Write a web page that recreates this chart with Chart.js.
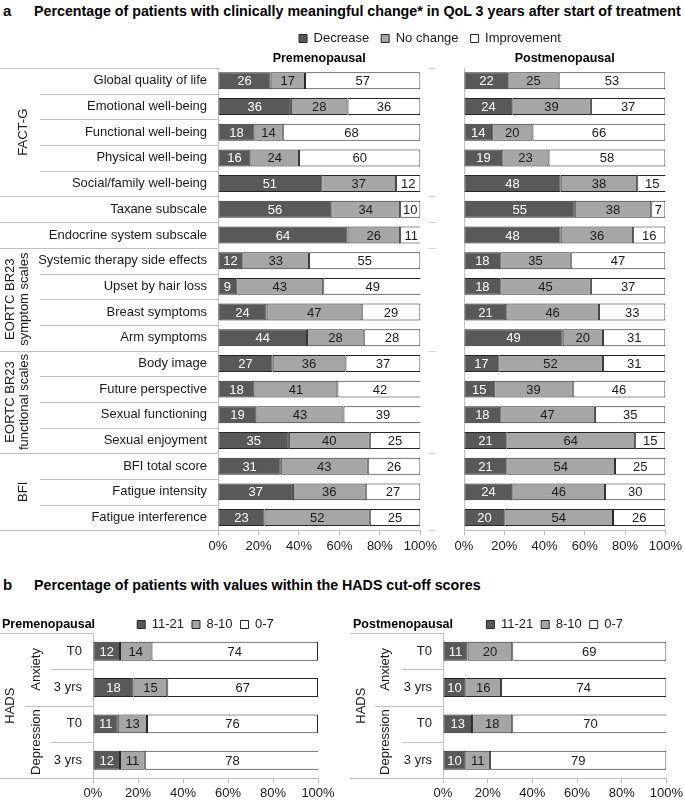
<!DOCTYPE html>
<html>
<head>
<meta charset="utf-8">
<title>QoL change and HADS cut-off scores</title>
<script src="https://cdn.jsdelivr.net/npm/chart.js@4"></script>
<style>
  body { margin: 0; width: 685px; height: 802px; overflow: hidden; background: #fff; position: relative;
         font-family: "Liberation Sans", Arial, sans-serif; }
  .head { position: absolute; font-weight: bold; color: #000; white-space: nowrap; line-height: 16px; }
  canvas { position: absolute; }
</style>
</head>
<body>
<div class="head" style="left:3px;top:3px;font-size:15px">a</div>
<div class="head" style="left:34px;top:3px;font-size:14.25px">Percentage of patients with clinically meaningful change* in QoL 3 years after start of treatment</div>
<div class="head" style="left:3px;top:577px;font-size:15px">b</div>
<div class="head" style="left:34px;top:577px;font-size:14.25px">Percentage of patients with values within the HADS cut-off scores</div>

<canvas id="preA" width="440" height="537" style="left:0;top:20px"></canvas>
<canvas id="postA" width="510" height="537" style="left:175px;top:20px"></canvas>
<canvas id="preB" width="340" height="193" style="left:0;top:610px"></canvas>
<canvas id="postB" width="345" height="193" style="left:340px;top:610px"></canvas>

<script>
// panel a: change in QoL scales 3 years after start of treatment (%)
const qolScales = ['Global quality of life', 'Emotional well-being', 'Functional well-being',
  'Physical well-being', 'Social/family well-being', 'Taxane subscale', 'Endocrine system subscale',
  'Systemic therapy side effects', 'Upset by hair loss', 'Breast symptoms', 'Arm symptoms',
  'Body image', 'Future perspective', 'Sexual functioning', 'Sexual enjoyment',
  'BFI total score', 'Fatigue intensity', 'Fatigue interference'];
const qolGroups = [
  { text: ['FACT-G'], rows: 5 },
  { text: [], rows: 1 },
  { text: [], rows: 1 },
  { text: ['EORTC BR23', 'symptom scales'], rows: 4 },
  { text: ['EORTC BR23', 'functional scales'], rows: 4 },
  { text: ['BFI'], rows: 3 }
];
const changeNames = ['Decrease', 'No change', 'Improvement'];

const preDecrease    = [26, 36, 18, 16, 51, 56, 64, 12,  9, 24, 44, 27, 18, 19, 35, 31, 37, 23];
const preNoChange    = [17, 28, 14, 24, 37, 34, 26, 33, 43, 47, 28, 36, 41, 43, 40, 43, 36, 52];
const preImprovement = [57, 36, 68, 60, 12, 10, 11, 55, 49, 29, 28, 37, 42, 39, 25, 26, 27, 25];

const postDecrease    = [22, 24, 14, 19, 48, 55, 48, 18, 18, 21, 49, 17, 15, 18, 21, 21, 24, 20];
const postNoChange    = [25, 39, 20, 23, 38, 38, 36, 35, 45, 46, 20, 52, 39, 47, 64, 54, 46, 54];
const postImprovement = [53, 37, 66, 58, 15,  7, 16, 47, 37, 33, 31, 31, 46, 35, 15, 25, 30, 26];

// panel b: HADS cut-off scores (%)
const hadsTimes = ['T0', '3 yrs', 'T0', '3 yrs'];
const hadsGroups = [{ text: ['HADS'], rows: 4 }];
const hadsSubGroups = [{ text: ['Anxiety'], rows: 2 }, { text: ['Depression'], rows: 2 }];
const hadsNames = ['11-21', '8-10', '0-7'];

const preHigh = [12, 18, 11, 12];
const preMid  = [14, 15, 13, 11];
const preLow  = [74, 67, 76, 78];

const postHigh = [11, 10, 13, 10];
const postMid  = [20, 16, 18, 11];
const postLow  = [69, 74, 70, 79];

const xTicks = [0, 20, 40, 60, 80, 100];

const FONT = '"Liberation Sans", Arial, sans-serif';
const fills = ['#595959', '#a6a6a6', '#ffffff'];
const valueColors = ['#ffffff', '#1a1a1a', '#1a1a1a'];
const lineGray = '#bfbfbf';

Chart.defaults.font.family = FONT;
Chart.defaults.font.size = 13;
Chart.defaults.color = '#1a1a1a';
Chart.defaults.animation = false;

// numbers in the middle of every segment
const barValues = {
  id: 'barValues',
  afterDatasetsDraw(chart) {
    const ctx = chart.ctx;
    ctx.save();
    ctx.font = '13px ' + FONT;
    ctx.textAlign = 'center';
    ctx.textBaseline = 'middle';
    chart.data.datasets.forEach((ds, i) => {
      chart.getDatasetMeta(i).data.forEach((bar, j) => {
        const p = bar.getProps(['x', 'y', 'base'], true);
        ctx.fillStyle = valueColors[i];
        ctx.fillText(ds.data[j], (p.x + p.base) / 2, p.y + 1);
      });
    });
    ctx.restore();
  }
};

// grouped category labels and separator lines left of the axis
const sideLabels = {
  id: 'sideLabels',
  afterDraw(chart, args, opts) {
    if (!opts.levels) return;
    const { ctx, chartArea } = chart;
    const y = chart.scales.y;
    const n = chart.data.labels.length;
    const edge = k => Math.round(y.getPixelForValue(k - 0.5)) + 0.5;
    const bounds = opts.levels.map(lv => {
      const s = new Set([0]);
      let k = 0;
      lv.groups.forEach(g => { k += g.rows; s.add(k); });
      return s;
    });
    ctx.save();
    ctx.strokeStyle = lineGray;
    ctx.lineWidth = 1;
    for (let k = 0; k <= n; k++) {
      const li = bounds.findIndex(s => s.has(k));
      const x0 = li >= 0 ? opts.levels[li].lineX : opts.rowLineX;
      const yy = edge(k);
      ctx.beginPath();
      ctx.moveTo(x0, yy);
      ctx.lineTo(chartArea.left, yy);
      ctx.stroke();
      if (opts.outerTicks && li === 0) {
        ctx.strokeStyle = '#d9d9d9';
        ctx.beginPath();
        ctx.moveTo(chartArea.right + 8, yy);
        ctx.lineTo(chartArea.right + 16, yy);
        ctx.stroke();
        ctx.strokeStyle = lineGray;
      }
    }
    ctx.fillStyle = '#1a1a1a';
    ctx.font = '13px ' + FONT;
    ctx.textAlign = 'center';
    ctx.textBaseline = 'middle';
    opts.levels.forEach(lv => {
      let k = 0;
      lv.groups.forEach(g => {
        if (g.text.length) {
          const cy = (y.getPixelForValue(k - 0.5) + y.getPixelForValue(k + g.rows - 0.5)) / 2;
          const cx = g.text.length > 1 ? lv.multiX : lv.x;
          ctx.save();
          ctx.translate(cx, cy);
          ctx.rotate(-Math.PI / 2);
          g.text.forEach((t, i) => ctx.fillText(t, 0, (i - (g.text.length - 1) / 2) * 14));
          ctx.restore();
        }
        k += g.rows;
      });
    });
    ctx.restore();
  }
};

// bold heading on the legend row (panel b)
const cornerTitle = {
  id: 'cornerTitle',
  afterDraw(chart, args, opts) {
    if (!opts.text) return;
    const lg = chart.legend;
    const ctx = chart.ctx;
    ctx.save();
    ctx.font = 'bold 12.5px ' + FONT;
    ctx.fillStyle = '#000';
    ctx.textAlign = 'left';
    ctx.textBaseline = 'middle';
    ctx.fillText(opts.text, opts.x, lg.top + lg.options.labels.padding + 6.5);
    ctx.restore();
  }
};

function stackedBars(id, o) {
  const datasets = o.series.map((s, i) => ({
    label: o.names[i],
    data: s,
    backgroundColor: fills[i],
    borderColor: '#262626',
    borderWidth: 1,
    borderSkipped: false,
    barPercentage: o.barPct,
    categoryPercentage: 1
  }));
  return new Chart(document.getElementById(id), {
    type: 'bar',
    data: { labels: o.labels, datasets: datasets },
    options: {
      indexAxis: 'y',
      responsive: false,
      layout: { padding: { top: o.padTop || 0, left: 0, right: 0, bottom: 0 } },
      scales: {
        x: {
          stacked: true, min: 0, max: 100,
          afterBuildTicks: s => { s.ticks = xTicks.map(v => ({ value: v })); },
          ticks: { padding: o.tickPad, callback: v => v + '%' },
          grid: { drawOnChartArea: false, tickLength: 5, color: lineGray },
          border: { color: lineGray }
        },
        y: {
          stacked: true,
          ticks: { display: o.showLabels, padding: 11 },
          grid: { drawOnChartArea: false, drawTicks: false },
          border: { color: lineGray },
          afterFit: s => { s.width = o.axisWidth; }
        },
        yRight: {
          type: 'category', position: 'right',
          ticks: { display: false },
          grid: { display: false },
          border: { display: false },
          afterFit: s => { s.width = o.rightWidth; }
        }
      },
      plugins: {
        legend: o.legend ? {
          display: true, position: 'top', maxHeight: o.legend.maxHeight, fullSize: o.legend.fullSize,
          labels: { boxWidth: 8, boxHeight: 8, padding: o.legend.padding, font: { size: 13 } }
        } : { display: false },
        title: o.title ? {
          display: true, text: o.title, fullSize: false, weight: 500, color: '#000',
          font: { size: 12.5, weight: 'bold' }, padding: { top: 5, bottom: 2 }
        } : { display: false },
        tooltip: { enabled: false },
        sideLabels: o.side || {},
        cornerTitle: o.corner || {}
      }
    },
    plugins: [barValues, sideLabels, cornerTitle]
  });
}

const postA = stackedBars('postA', {
  labels: qolScales, names: changeNames,
  series: [postDecrease, postNoChange, postImprovement],
  barPct: 0.66, tickPad: 3, showLabels: false,
  axisWidth: 289, rightWidth: 17,
  legend: { padding: 12, maxHeight: 26, fullSize: true },
  title: 'Postmenopausal'
});

stackedBars('preA', {
  labels: qolScales, names: changeNames,
  series: [preDecrease, preNoChange, preImprovement],
  barPct: 0.66, tickPad: 3, showLabels: true,
  axisWidth: 218, rightWidth: 15,
  padTop: postA.legend.height,
  title: 'Premenopausal',
  side: { levels: [{ lineX: 0, x: 23, multiX: 17, groups: qolGroups }], rowLineX: 40, outerTicks: true }
});

stackedBars('preB', {
  labels: hadsTimes, names: hadsNames,
  series: [preHigh, preMid, preLow],
  barPct: 0.52, tickPad: 2, showLabels: true,
  axisWidth: 93, rightWidth: 22,
  legend: { padding: 8, maxHeight: 23, fullSize: false },
  corner: { text: 'Premenopausal', x: 2 },
  side: { levels: [
    { lineX: 0, x: 10, multiX: 10, groups: hadsGroups },
    { lineX: 25, x: 36, multiX: 36, groups: hadsSubGroups }
  ], rowLineX: 51 }
});

stackedBars('postB', {
  labels: hadsTimes, names: hadsNames,
  series: [postHigh, postMid, postLow],
  barPct: 0.52, tickPad: 2, showLabels: true,
  axisWidth: 103, rightWidth: 17,
  legend: { padding: 8, maxHeight: 23, fullSize: false },
  corner: { text: 'Postmenopausal', x: 13 },
  side: { levels: [
    { lineX: 10, x: 21, multiX: 21, groups: hadsGroups },
    { lineX: 35, x: 45, multiX: 45, groups: hadsSubGroups }
  ], rowLineX: 62 }
});
</script>
</body>
</html>
